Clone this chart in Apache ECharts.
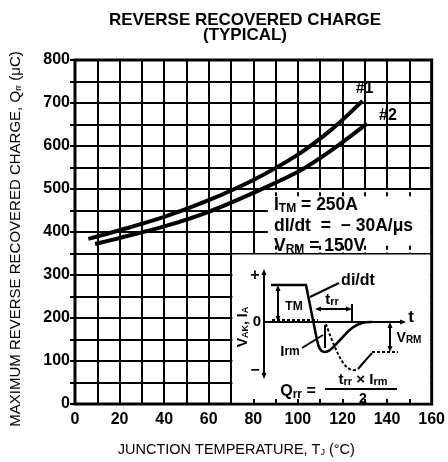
<!DOCTYPE html>
<html>
<head>
<meta charset="utf-8">
<script src="https://cdn.jsdelivr.net/npm/echarts@6/dist/echarts.min.js"></script>
<style>
  html, body { margin: 0; padding: 0; background: #fff; }
  #chart { width: 448px; height: 462px; }
</style>
</head>
<body>
<div id="chart"></div>
<script>
// curves
const temps1 = [6, 20, 40, 60, 80, 100, 115, 129]
const charge1 = [384, 404, 435, 474, 521, 580, 638, 705]
const temps2 = [9, 20, 40, 60, 80, 100, 115, 131]
const charge2 = [372, 386, 413, 447, 491, 540, 590, 652]
const curveNames = ['#1', '#2']
const conditions = ['250A', '\u2212 30A/\u03bcs', '150V']

const FONT = '"Liberation Sans", Arial, Helvetica, sans-serif'
const ink = '#000'
const plotH = 352.5 // px from 0 to 800 on the y axis

const pairs = (xs, ys) => xs.map((x, i) => [x, ys[i]])

const sub = { fontSize: 12, fontWeight: 'bold', fontFamily: FONT, verticalAlign: 'bottom', padding: [5, 0, 0, 0] }
const big = { fontSize: 17.5, fontWeight: 'bold', fontFamily: FONT }

function txt(x, y, text, size, extra) {
  return {
    type: 'text', x: x, y: y, z: 100,
    style: Object.assign({
      text: text, fill: ink, fontSize: size, fontWeight: 'bold', fontFamily: FONT,
      align: 'center', verticalAlign: 'middle'
    }, extra || {})
  }
}
function seg(x1, y1, x2, y2, w, dash) {
  return { type: 'line', z: 100, shape: { x1, y1, x2, y2 }, style: { stroke: ink, lineWidth: w || 2, lineDash: dash || null } }
}
function poly(points, w, dash, smooth) {
  return { type: 'polyline', z: 100, shape: { points, smooth: smooth || 0 }, style: { stroke: ink, fill: 'none', lineWidth: w || 2, lineDash: dash || null } }
}
function head(x, y, dir) {
  // small filled arrow head, dir: up/down/left/right
  const s = 5, l = 6
  const pts = {
    up: [[x, y], [x - s / 2, y + l], [x + s / 2, y + l]],
    down: [[x, y], [x - s / 2, y - l], [x + s / 2, y - l]],
    left: [[x, y], [x + l, y - s / 2], [x + l, y + s / 2]],
    right: [[x, y], [x - l, y - s / 2], [x - l, y + s / 2]]
  }[dir]
  return { type: 'polygon', z: 100, shape: { points: pts }, style: { fill: ink } }
}

const smallSub = size => ({ fontSize: size, fontWeight: 'bold', fontFamily: FONT, verticalAlign: 'bottom', padding: [4, 0, 0, 0] })

// conditions text and the little waveform sketch in the lower right box
const graphics = [
  txt(274, 205.5, '{b|I}{s|TM}{b| = ' + conditions[0] + '}', 17.5, { align: 'left', rich: { b: big, s: sub } }),
  txt(274, 226, 'dl/dt  =  ' + conditions[1], 17.5, { align: 'left' }),
  txt(274, 246.5, '{b|V}{s|RM}{b| = ' + conditions[2] + '}', 17.5, { align: 'left', rich: { b: big, s: sub } }),

  // axes of the sketch
  seg(264, 272, 264, 376, 2), head(264, 269, 'up'), head(264, 379, 'down'),
  seg(264, 322, 402, 322, 2), head(406, 322, 'right'),
  txt(255, 276, '+', 16), txt(255, 371, '\u2212', 16),
  txt(257, 322, '0', 15),
  txt(411, 317, 't', 17),
  {
    type: 'text', x: 243, y: 327, z: 100, rotation: Math.PI / 2,
    style: { text: '{b|V}{s|AK}{b|, I}{s|A}', fill: ink, align: 'center', verticalAlign: 'middle',
      rich: { b: { fontSize: 14, fontWeight: 'bold', fontFamily: FONT }, s: smallSub(9) } }
  },

  // current waveform
  poly([[271, 285], [306, 285], [317, 340]], 2.5),
  poly([[317, 340], [320, 349], [324, 352], [330, 350], [340, 340], [352, 328], [362, 323], [372, 322]], 2.5, null, 0.4),
  // recovery voltage
  seg(272, 320, 318, 320, 2, [3, 2]),
  poly([[326, 324], [334, 345], [344, 364], [352, 370], [358, 369]], 2, [3, 2], 0.4),
  poly([[358, 369], [364, 362], [372, 353]], 2, null, 0.3),
  seg(372, 352, 398, 352, 2, [3, 2]),

  // I_TM arrow
  seg(278, 289, 278, 318, 2), head(278, 285, 'up'), head(278, 322, 'down'),
  txt(294, 307, 'TM', 12),
  // t_rr arrow
  seg(318, 309, 348, 309, 2), head(315, 309, 'left'), head(352, 309, 'right'),
  seg(352, 304, 352, 322, 2),
  txt(332, 300, 't{s|rr}', 15, { rich: { s: smallSub(11) } }),
  // di/dt leader
  txt(358, 281, 'di/dt', 16),
  seg(339, 283, 310, 297, 2),
  // I_rm leader
  txt(290, 352, 'I{s|rm}', 15, { rich: { s: { fontSize: 12, fontWeight: 'bold', fontFamily: FONT } } }),
  seg(302, 348, 323, 335, 2),
  seg(325, 325, 325, 348, 2),
  // V_RM arrow
  seg(390, 326, 390, 348, 2), head(390, 322, 'up'), head(390, 352, 'down'),
  txt(409, 338, '{b|V}{s|RM}', 14, { rich: { b: { fontSize: 14, fontWeight: 'bold', fontFamily: FONT }, s: smallSub(10) } }),
  // Qrr formula
  txt(298, 392, '{b|Q}{s|rr}{b| =}', 16, { rich: { b: { fontSize: 16, fontWeight: 'bold', fontFamily: FONT }, s: sub } }),
  txt(363, 380, 't{s|rr}{b| \u00d7 I}{s|rm}', 15, { rich: { b: { fontSize: 15, fontWeight: 'bold', fontFamily: FONT }, s: smallSub(11) } }),
  seg(325, 389, 397, 389, 2),
  txt(363, 399, '2', 14)
]

// an axis that only draws short inside ticks, laid over the white boxes
function tickAxis(position, offset, len) {
  return {
    type: 'value', min: 0, max: position === 'right' ? 800 : 160, interval: position === 'right' ? 50 : 10,
    position: position, offset: offset, z: 5,
    axisLine: { show: false }, axisLabel: { show: false }, splitLine: { show: false },
    axisTick: { show: true, inside: true, length: len || 5, lineStyle: { color: ink, width: 2 } }
  }
}

const chart = echarts.init(document.getElementById('chart'))
chart.setOption({
  animation: false,
  backgroundColor: '#fff',
  title: {
    text: 'REVERSE RECOVERED CHARGE\n(TYPICAL)',
    left: 240, top: 8, textAlign: 'center',
    textStyle: { fontSize: 17, fontWeight: 'bold', fontFamily: FONT, color: ink, lineHeight: 15, align: 'center' }
  },
  grid: { left: 72, right: 16, top: 60, bottom: 49.5, show: true, borderColor: ink, borderWidth: 3 },
  xAxis: [{
    type: 'value', min: 0, max: 160, interval: 10,
    name: 'JUNCTION TEMPERATURE, T{s|J} (\u00b0C)',
    nameLocation: 'middle', nameGap: 38,
    nameTextStyle: { fontSize: 14.5, fontFamily: FONT, color: ink, padding: [0, 34, 0, 0],
      rich: { s: { fontSize: 9, fontFamily: FONT, verticalAlign: 'bottom', padding: [4, 0, 0, 0] } } },
    axisLine: { show: false }, axisTick: { show: false },
    axisLabel: { fontSize: 16, fontWeight: 'bold', fontFamily: FONT, color: ink, margin: 8,
      formatter: v => (v % 20 === 0 ? v : '') },
    splitLine: { show: true, lineStyle: { color: ink, width: 2 } }
  },
  tickAxis('bottom', 0),
  tickAxis('top', -plotH * 300 / 800, 4),
  tickAxis('bottom', -plotH * 350 / 800, 4)],
  yAxis: [{
    type: 'value', min: 0, max: 800, interval: 50,
    name: 'MAXIMUM REVERSE RECOVERED CHARGE, Q{s|rr} (\u03bcC)',
    nameLocation: 'middle', nameGap: 52,
    nameTextStyle: { fontSize: 15, fontFamily: FONT, color: ink, padding: [0, 14, 0, 0],
      rich: { s: { fontSize: 9, fontFamily: FONT, verticalAlign: 'bottom', padding: [4, 0, 0, 0] } } },
    axisLine: { show: false }, axisTick: { show: false },
    axisLabel: { fontSize: 16, fontWeight: 'bold', fontFamily: FONT, color: ink, margin: 5,
      formatter: v => (v % 100 === 0 ? v : '') },
    splitLine: { show: true, lineStyle: { color: ink, width: 2 } }
  }, tickAxis('right', 0)],
  series: [{
    name: curveNames[0], type: 'line', smooth: 0.3,
    symbol: 'none', data: pairs(temps1, charge1),
    lineStyle: { color: ink, width: 4 },
    endLabel: { show: true, formatter: curveNames[0], align: 'center', verticalAlign: 'bottom', distance: 0, offset: [2, -4],
      fontSize: 16, fontWeight: 'bold', fontFamily: FONT, color: ink },
    markArea: {
      silent: true, itemStyle: { color: '#fff' },
      data: [
        [{ xAxis: 86.5, yAxis: 352.5 }, { xAxis: 159.3, yAxis: 497.6 }],
        [{ xAxis: 70.6, yAxis: 3.5 }, { xAxis: 159.3, yAxis: 347.6 }]
      ]
    }
  }, {
    name: curveNames[1], type: 'line', smooth: 0.3,
    symbol: 'none', data: pairs(temps2, charge2),
    lineStyle: { color: ink, width: 4 },
    endLabel: { show: true, formatter: curveNames[1], align: 'left', verticalAlign: 'middle', distance: 0, offset: [12, -8],
      fontSize: 16, fontWeight: 'bold', fontFamily: FONT, color: ink }
  }],
  graphic: graphics
})
</script>
</body>
</html>
